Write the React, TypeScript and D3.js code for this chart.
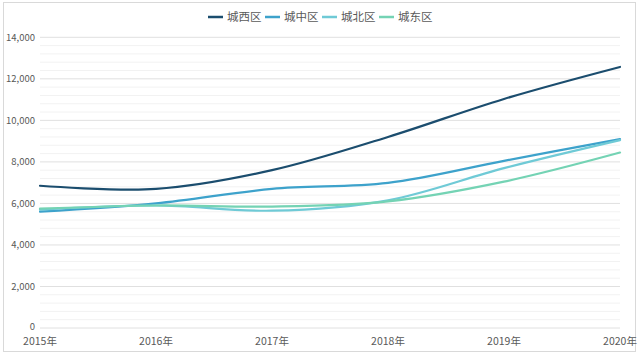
import React from "react";
import * as d3 from "d3";

const years = ["2015年", "2016年", "2017年", "2018年", "2019年", "2020年"];
const seriesNames = ["城西区", "城中区", "城北区", "城东区"];
const chengxi = [6850, 6700, 7600, 9200, 11030, 12570];
const chengzhong = [5600, 6000, 6700, 6990, 8050, 9100];
const chengbei = [5700, 5900, 5650, 6150, 7700, 9050];
const chengdong = [5750, 5900, 5850, 6100, 7050, 8450];
const yTicks = [0, 2000, 4000, 6000, 8000, 10000, 12000, 14000];
const colors = ["#1b4d6e", "#3da2cb", "#6fcad6", "#74d3b4"];

export default function App() {
  const W = 640, H = 356;
  const x = d3.scalePoint<string>().domain(years).range([40, 620]);
  const y = d3.scaleLinear().domain([0, 14000]).range([328, 37.3]);
  const data = [chengxi, chengzhong, chengbei, chengdong];
  const minor = d3.range(0, 14001, 400).filter((v) => v % 2000 !== 0);
  const line = d3
    .line<number>()
    .x((_, i) => x(years[i])!)
    .y((d) => y(d))
    .curve(d3.curveCatmullRom.alpha(0.5));
  const font = "'Noto Sans CJK SC', 'Noto Sans', sans-serif";
  const legendX = [208, 265, 322, 379];
  return (
    <svg width={W} height={H} style={{ position: "absolute", left: 0, top: 0 }}>
      <rect x={0} y={0} width={W} height={H} fill="#fff" />
      <rect x={3.5} y={2.5} width={632} height={349} fill="none" stroke="#d9d9d9" />
      {minor.map((v) => (
        <line key={"m" + v} x1={40} x2={620} y1={y(v)} y2={y(v)} stroke="#f2f2f2" strokeWidth={1} />
      ))}
      {yTicks.map((v) => (
        <g key={v}>
          <line x1={40} x2={620} y1={y(v)} y2={y(v)} stroke="#e0e0e0" strokeWidth={1} />
          <text x={35} y={v === 0 ? y(v) - 1 : y(v)} dy="0.35em" textAnchor="end" fontSize={9.5} fill="#595959" fontFamily={font}>
            {d3.format(",")(v)}
          </text>
        </g>
      ))}
      {years.map((yr) => (
        <text key={yr} x={x(yr)} y={345} textAnchor="middle" fontSize={10.5} fill="#595959" fontFamily={font}>
          {yr}
        </text>
      ))}
      {data.map((d, i) => (
        <path key={i} d={line(d)!} fill="none" stroke={colors[i]} strokeWidth={2.2} strokeLinecap="round" />
      ))}
      {seriesNames.map((n, i) => (
        <g key={n} transform={`translate(${legendX[i]},17)`}>
          <line x1={0} x2={15} y1={0} y2={0} stroke={colors[i]} strokeWidth={2.5} />
          <text x={19} y={0} dy="0.35em" fontSize={11.5} fill="#595959" fontFamily={font}>
            {n}
          </text>
        </g>
      ))}
    </svg>
  );
}
